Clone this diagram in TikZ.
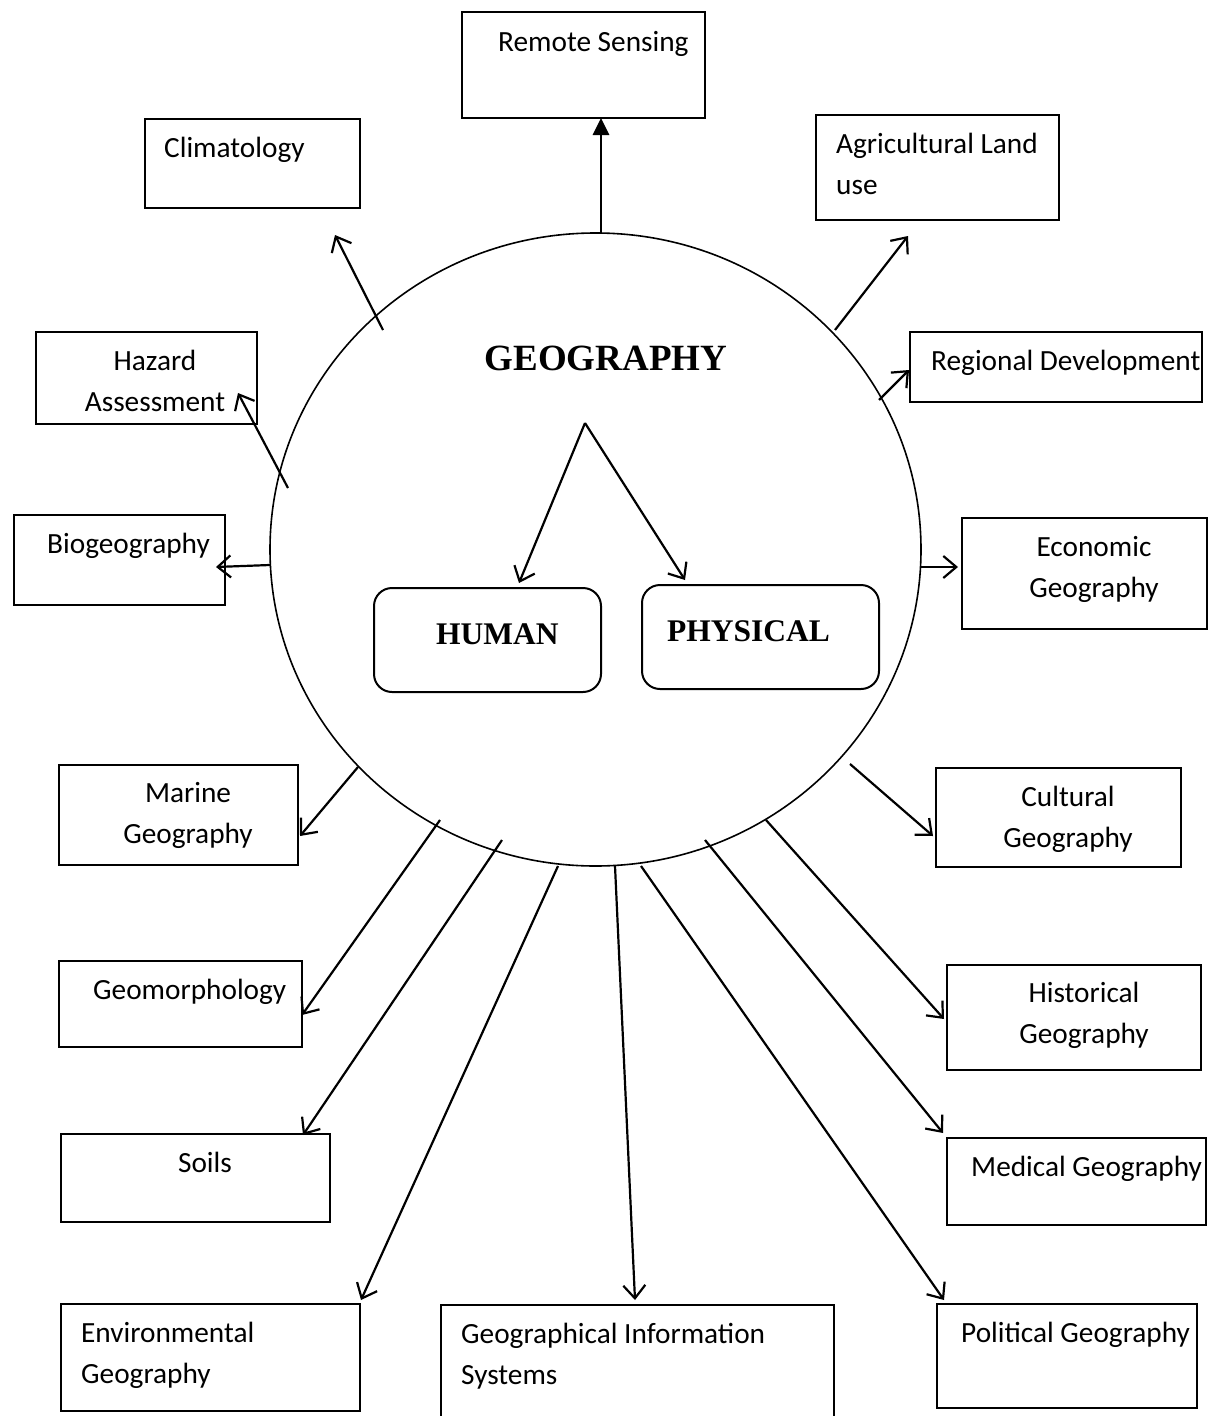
\documentclass[tikz,border=0pt]{standalone}
\usepackage{fontspec}
\setmainfont{Carlito}
\newfontfamily\tnr{Liberation Serif}
\usetikzlibrary{arrows.meta,shapes.geometric}
\tikzset{
  box/.style={draw, line width=2pt, inner sep=0pt, anchor=north west},
  rbox/.style={draw, line width=2pt, rounded corners=18pt, inner sep=0pt, anchor=north west},
  lbl/.style={inner sep=0pt, font=\fontsize{29.3}{41}\selectfont},
  blbl/.style={inner sep=0pt, font=\tnr\bfseries\fontsize{31.5}{38}\selectfont},
  conn/.style={line width=2.2pt, -{Straight Barb[length=13pt,width=22pt,line width=2.2pt]}},
  thick conn/.style={line width=2.8pt, -{Triangle[length=17pt,width=16pt]}},
}
\begin{document}
\begin{tikzpicture}[x=1pt,y=-1pt]
\useasboundingbox (0,0) rectangle (1210,1416);
% central ellipse
\node[draw, ellipse, line width=1.6pt, minimum width=651pt, minimum height=633pt, inner sep=0pt] (geo) at (595.5,549.5) {};
% boxes
\node[box, minimum width=243pt, minimum height=106pt] (rs) at (461,11) {};
\node[box, minimum width=215pt, minimum height=89pt] (clim) at (144,118) {};
\node[box, minimum width=243pt, minimum height=105pt] (agri) at (815,114) {};
\node[box, minimum width=292pt, minimum height=70pt] (reg) at (909,331) {};
\node[box, minimum width=221pt, minimum height=92pt] (haz) at (35,331) {};
\node[box, minimum width=211pt, minimum height=90pt] (bio) at (13,514) {};
\node[box, minimum width=245pt, minimum height=111pt] (eco) at (961,517) {};
\node[rbox, minimum width=227pt, minimum height=104pt] (human) at (373,587) {};
\node[rbox, minimum width=237pt, minimum height=104pt] (phys) at (641,584) {};
\node[box, minimum width=239pt, minimum height=100pt] (mar) at (58,764) {};
\node[box, minimum width=245pt, minimum height=99pt] (cult) at (935,767) {};
\node[box, minimum width=243pt, minimum height=86pt] (geom) at (58,960) {};
\node[box, minimum width=254pt, minimum height=105pt] (hist) at (946,964) {};
\node[box, minimum width=269pt, minimum height=88pt] (soil) at (60,1133) {};
\node[box, minimum width=259pt, minimum height=87pt] (med) at (946,1137) {};
\node[box, minimum width=299pt, minimum height=107pt] (env) at (60,1303) {};
\node[box, minimum width=393pt, minimum height=122pt] (gis) at (440,1304) {};
\node[box, minimum width=260pt, minimum height=104pt] (pol) at (936,1303) {};
% texts (multi-line nodes: base anchor = baseline of last line)
\node[blbl, font=\tnr\bfseries\fontsize{37}{44}\selectfont, anchor=base] (geoT) at (606,370) {GEOGRAPHY};
\node[blbl, anchor=base west] (humanT) at (436,644) {HUMAN};
\node[blbl, anchor=base west] (physT) at (667,641) {PHYSICAL};
\node[lbl, anchor=base west] (rsT) at (498,51) {Remote Sensing};
\node[lbl, anchor=base west] (climT) at (164,157) {Climatology};
\node[lbl, anchor=base west, align=left] (agriT) at (836,194) {Agricultural Land\\use};
\node[lbl, anchor=base west] (regT) at (931,370) {Regional Development};
\node[lbl, anchor=base, align=center] (hazT) at (155,411) {Hazard\\Assessment};
\node[lbl, anchor=base west] (bioT) at (47,553) {Biogeography};
\node[lbl, anchor=base, align=center] (ecoT) at (1094,597) {Economic\\Geography};
\node[lbl, anchor=base, align=center] (marT) at (188,843) {Marine\\Geography};
\node[lbl, anchor=base, align=center] (cultT) at (1068,847) {Cultural\\Geography};
\node[lbl, anchor=base west] (geomT) at (93,999) {Geomorphology};
\node[lbl, anchor=base, align=center] (histT) at (1084,1043) {Historical\\Geography};
\node[lbl, anchor=base] (soilT) at (205,1172) {Soils};
\node[lbl, anchor=base west] (medT) at (971,1176) {Medical Geography};
\node[lbl, anchor=base west, align=left] (envT) at (81,1383) {Environmental\\Geography};
\node[lbl, anchor=base west, align=left] (gisT) at (461,1384) {Geographical Information\\Systems};
\node[lbl, anchor=base west] (polT) at (961,1342) {Political Geography};
% connector end points
\coordinate (rsS) at (601,233);   \coordinate (rsE) at (601,118);
\coordinate (climS) at (383,330); \coordinate (climE) at (335,235);
\coordinate (agriS) at (835,330); \coordinate (agriE) at (908,236);
\coordinate (regS) at (879,400);  \coordinate (regE) at (909,370);
\coordinate (hazS) at (288,488);  \coordinate (hazE) at (238,393);
\coordinate (bioS) at (270,565);  \coordinate (bioE) at (216,567);
\coordinate (ecoS) at (921,567);  \coordinate (ecoE) at (958,567);
\coordinate (split) at (585,423);
\coordinate (humanE) at (519,583); \coordinate (physE) at (685,580);
\coordinate (marS) at (358,767);  \coordinate (marE) at (300,836);
\coordinate (geomS) at (440,820); \coordinate (geomE) at (302,1015);
\coordinate (soilS) at (502,840); \coordinate (soilE) at (303,1135);
\coordinate (envS) at (558,866);  \coordinate (envE) at (361,1300);
\coordinate (gisS) at (615,866);  \coordinate (gisE) at (635,1300);
\coordinate (polS) at (641,866);  \coordinate (polE) at (944,1300);
\coordinate (medS) at (705,840);  \coordinate (medE) at (943,1133);
\coordinate (histS) at (766,820); \coordinate (histE) at (944,1019);
\coordinate (cultS) at (850,764); \coordinate (cultE) at (933,836);
% connectors
\draw[thick conn] (rsS) -- (rsE);
\draw[conn] (climS) -- (climE);
\draw[conn] (agriS) -- (agriE);
\draw[conn] (regS) -- (regE);
\draw[conn] (hazS) -- (hazE);
\draw[conn] (bioS) -- (bioE);
\draw[conn] (ecoS) -- (ecoE);
\draw[conn] (split) -- (humanE);
\draw[conn] (split) -- (physE);
\draw[conn] (marS) -- (marE);
\draw[conn] (geomS) -- (geomE);
\draw[conn] (soilS) -- (soilE);
\draw[conn] (envS) -- (envE);
\draw[conn] (gisS) -- (gisE);
\draw[conn] (polS) -- (polE);
\draw[conn] (medS) -- (medE);
\draw[conn] (histS) -- (histE);
\draw[conn] (cultS) -- (cultE);
\end{tikzpicture}
\end{document}
